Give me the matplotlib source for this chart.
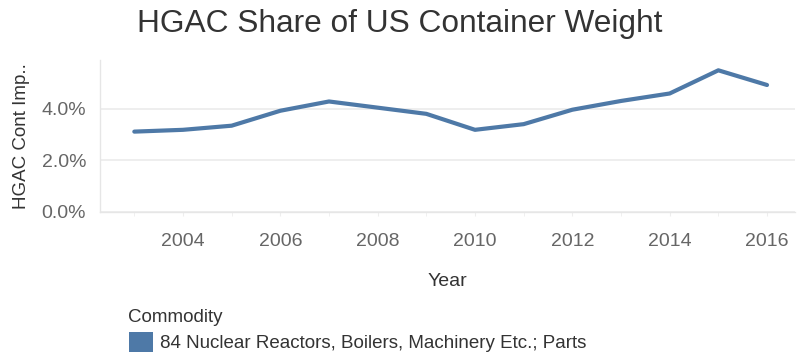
import matplotlib
matplotlib.use("Agg")
import matplotlib.pyplot as plt
from matplotlib.patches import Patch
from matplotlib.ticker import FuncFormatter, MultipleLocator

plt.rcParams['font.family'] = ['Liberation Sans', 'DejaVu Sans']

# HGAC share of US container import weight, commodity 84
years = [2003, 2004, 2005, 2006, 2007, 2008, 2009, 2010, 2011, 2012, 2013, 2014, 2015, 2016]
share = [3.12, 3.19, 3.35, 3.93, 4.29, 4.05, 3.81, 3.19, 3.41, 3.97, 4.31, 4.60, 5.50, 4.93]
commodity = "84 Nuclear Reactors, Boilers, Machinery Etc.; Parts"
line_color = "#4e79a7"

W, H = 797, 356
fig = plt.figure(figsize=(W / 100, H / 100), dpi=100)
ax = fig.add_axes([100 / W, 1 - 212 / H, 695 / W, 152 / H])

ax.plot(years, share, color=line_color, lw=3.0, solid_capstyle='round', solid_joinstyle='round')

ax.set_xlim(2002.295, 2016.575)
ax.set_ylim(0, 5.9)
ax.xaxis.set_major_locator(MultipleLocator(2))
ax.xaxis.set_minor_locator(MultipleLocator(1))
ax.yaxis.set_major_locator(MultipleLocator(2))
ax.yaxis.set_major_formatter(FuncFormatter(lambda v, p: f"{v:.1f}%"))

ax.grid(axis='y', color='#ebebeb', lw=1.2)
ax.set_axisbelow(True)
for side in ['top', 'right']:
    ax.spines[side].set_visible(False)
for side in ['left', 'bottom']:
    ax.spines[side].set_color('#e6e6e6')
    ax.spines[side].set_linewidth(1.0)

ax.tick_params(axis='y', length=0, pad=10, labelsize=14, labelcolor='#666666')
ax.tick_params(axis='x', which='both', length=3, color='#eeeeee', pad=12,
               labelsize=14, labelcolor='#666666')

ax.set_xlabel("Year", fontsize=14, color='#333333', labelpad=17)
ax.set_ylabel("HGAC Cont Imp..", fontsize=13.5, color='#333333', labelpad=8)

fig.text(400 / W, 1 - 24 / H, "HGAC Share of US Container Weight", ha='center', va='center',
         fontsize=22.8, color='#333333')

# legend
fig.text(128 / W, 1 - 318 / H, "Commodity", ha='left', va='center', fontsize=13.5, color='#333333')
leg = fig.legend(handles=[Patch(facecolor=line_color, label=commodity)],
                 loc='center left', bbox_to_anchor=(116 / W, 1 - 342 / H), frameon=False,
                 fontsize=13.5, handlelength=1.25, handleheight=1.3, handletextpad=0.4,
                 borderpad=0.2)
for t in leg.get_texts():
    t.set_color('#333333')

fig.savefig("out.png", dpi=100)
